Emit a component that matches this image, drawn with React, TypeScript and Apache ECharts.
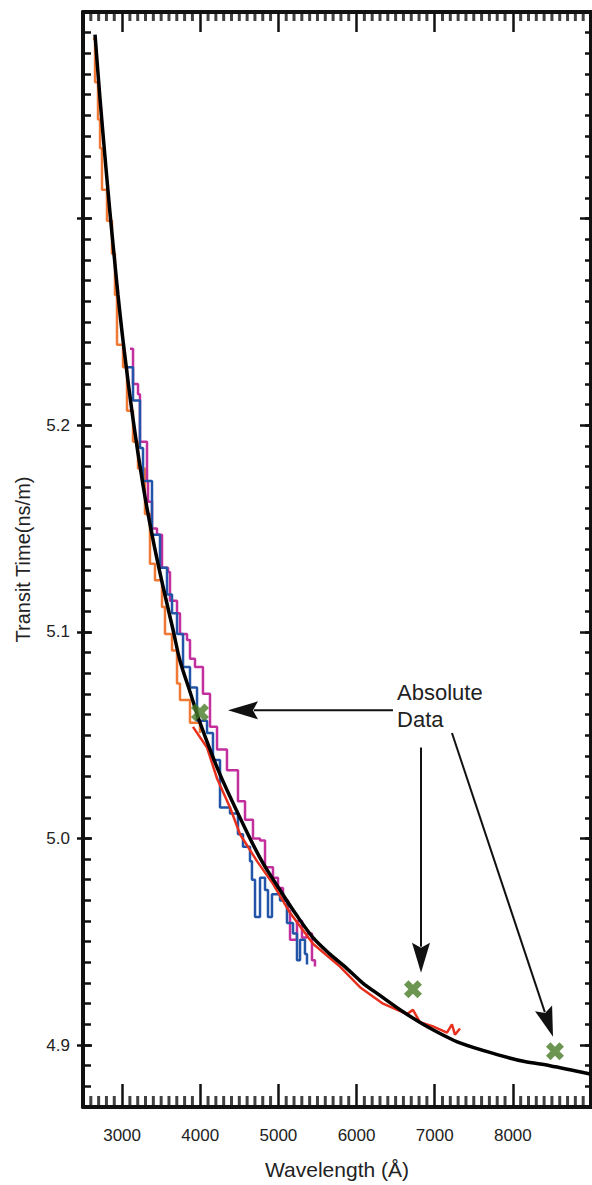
import React, { useEffect, useRef } from 'react';
import * as echarts from 'echarts';

// Wavelength (Å) vs transit time (ns/m)
const modelCurve: [number, number][] = [
  [2654, 5.389], [2718, 5.358], [2781, 5.330], [2845, 5.303], [2909, 5.278], [2948, 5.263],
  [3012, 5.241], [3140, 5.203], [3268, 5.171], [3383, 5.147], [3511, 5.124], [3652, 5.101],
  [3741, 5.086], [3869, 5.071], [3997, 5.056], [4253, 5.031], [4598, 5.003], [4803, 4.988],
  [5021, 4.975], [5230, 4.963], [5443, 4.952], [5660, 4.944], [5878, 4.937], [6080, 4.930],
  [6300, 4.924], [6600, 4.916], [6901, 4.909], [7324, 4.901], [7835, 4.895], [8150, 4.892],
  [8475, 4.890], [8987, 4.886],
];

const orangeRun: [number, number][] = [
  [2628, 5.387], [2654, 5.366], [2692, 5.348], [2718, 5.334], [2743, 5.314], [2807, 5.299],
  [2871, 5.283], [2909, 5.263], [2935, 5.239], [3012, 5.228], [3063, 5.207], [3140, 5.192],
  [3204, 5.179], [3293, 5.157], [3357, 5.133], [3421, 5.125], [3511, 5.112], [3549, 5.099],
  [3639, 5.091], [3703, 5.075], [3741, 5.067], [3869, 5.056], [3997, 5.051],
];

const redRun: [number, number][] = [
  [3907, 5.054], [4087, 5.044], [4215, 5.029], [4381, 5.015], [4509, 5.002], [4726, 4.989],
  [4931, 4.978], [5149, 4.964], [5443, 4.949], [5788, 4.938], [6044, 4.928], [6339, 4.920],
  [6646, 4.915], [6722, 4.917], [6812, 4.911], [6978, 4.909], [7157, 4.906], [7221, 4.910],
  [7259, 4.905], [7324, 4.908],
];

const magentaRun: [number, number][] = [
  [3101, 5.237], [3140, 5.220], [3204, 5.215], [3229, 5.192], [3319, 5.173], [3332, 5.163],
  [3383, 5.150], [3447, 5.147], [3511, 5.131], [3588, 5.129], [3613, 5.115], [3703, 5.109],
  [3741, 5.099], [3831, 5.096], [3869, 5.087], [3933, 5.083], [4035, 5.070], [4125, 5.054],
  [4215, 5.043], [4342, 5.033], [4483, 5.018], [4573, 5.009], [4675, 5.000], [4765, 4.999],
  [4829, 4.986], [4931, 4.981], [4995, 4.976], [5059, 4.970], [5123, 4.965], [5149, 4.951],
  [5238, 4.960], [5302, 4.952], [5366, 4.954], [5430, 4.941], [5468, 4.938],
];

const blueRun: [number, number][] = [
  [3063, 5.228], [3140, 5.212], [3229, 5.189], [3268, 5.173], [3383, 5.147], [3485, 5.131],
  [3575, 5.118], [3639, 5.109], [3703, 5.099], [3780, 5.083], [3869, 5.073], [3959, 5.057],
  [4087, 5.051], [4163, 5.038], [4253, 5.015], [4381, 5.012], [4483, 5.002], [4547, 4.996],
  [4637, 4.989], [4662, 4.980], [4701, 4.962], [4765, 4.981], [4829, 4.975], [4867, 4.962],
  [4918, 4.973], [5021, 4.970], [5110, 4.959], [5187, 4.954], [5238, 4.941], [5277, 4.951],
  [5340, 4.944], [5366, 4.939],
];

const absoluteData: [number, number][] = [
  [3997, 5.061], [6722, 4.927], [8539, 4.897],
];

// annotation arrows: [from, to] in data units
const arrows: [[number, number], [number, number]][] = [
  [[6466, 5.062], [4355, 5.062]],
  [[6825, 5.044], [6825, 4.935]],
  [[7221, 5.051], [8514, 4.904]],
];
const noteAnchor: [number, number] = [6518, 5.077];
const noteText = 'Absolute\nData';

const xMajor = [3000, 4000, 5000, 6000, 7000, 8000];
const yMajorTicks = [4.9, 5.0, 5.1, 5.2, 5.3];
const yLabels = [4.9, 5.0, 5.1, 5.2];
const X_MIN = 2500;
const X_MAX = 9000;
const Y_MIN = 4.87;
const Y_MAX = 5.4;
const xMinor = Array.from({ length: (X_MAX - X_MIN) / 100 + 1 }, (_, i) => X_MIN + i * 100)
  .filter((v) => v > X_MIN && v < X_MAX && xMajor.indexOf(v) < 0);
const yMinor = Array.from({ length: 54 }, (_, i) => +(Y_MIN + i * 0.01).toFixed(2));
const yMinorGroups = [0, 1].map((k) => yMinor.filter((_, i) => i % 2 === k));

const FONT = 'Liberation Sans';
const INK = '#111';

export default function App() {
  const ref = useRef<HTMLDivElement>(null);
  useEffect(() => {
    const chart = echarts.init(ref.current!, null, { renderer: 'svg' });
    const base = () => ({ type: 'value', min: X_MIN, max: X_MAX, splitLine: { show: false } });
    const ybase = () => ({ type: 'value', min: Y_MIN, max: Y_MAX, splitLine: { show: false } });
    const line = () => ({ show: true, onZero: false, lineStyle: { color: INK, width: 4 } });
    const noLine = () => ({ show: false, onZero: false });
    const noTick = () => ({ show: false });
    const noLabel = () => ({ show: false });
    const tick = (inside: boolean, length: number, custom: number[], width = 2.5) => ({
      show: true, inside, length, lineStyle: { color: INK, width }, customValues: custom,
    });
    const yTickAxes = (pos: string, len: number) =>
      yMinorGroups.map((g) => ({ ...ybase(), position: pos, axisLine: noLine(), axisTick: tick(true, len, g), axisLabel: noLabel() }));
    // frame minor ticks along the wavelength edges, drawn as thin rect marks sitting on the frame
    const frameTicks = (yv: number, len: number, dir: number) => ({
      type: 'scatter', silent: true, clip: false, z: 5,
      data: xMinor.map((v) => [v, yv]),
      symbol: 'rect', symbolSize: [3, len], symbolOffset: [0, (dir * len) / 2],
      itemStyle: { color: INK }, tooltip: { show: false },
    });
    chart.setOption({
      animation: false,
      backgroundColor: '#fff',
      textStyle: { fontFamily: FONT },
      grid: { left: 83, top: 12, width: 508, height: 1096, containLabel: false },
      xAxis: [
        {
          ...base(), position: 'bottom', axisLine: line(), axisTick: noTick(), axisLabel: noLabel(),
          name: 'Wavelength (Å)', nameLocation: 'middle', nameGap: 52,
          nameTextStyle: { fontSize: 21, color: '#222', fontFamily: FONT },
        },
        {
          ...base(), position: 'bottom', axisLine: noLine(), axisTick: tick(true, 23, xMajor),
          axisLabel: {
            customValues: xMajor, fontSize: 17, color: '#222', margin: 20, fontFamily: FONT,
            formatter: (v: number) => String(v),
          },
        },
        { ...base(), position: 'top', axisLine: line(), axisTick: noTick(), axisLabel: noLabel() },
        { ...base(), position: 'top', axisLine: noLine(), axisTick: tick(true, 20, xMajor), axisLabel: noLabel() },
      ],
      yAxis: [
        {
          ...ybase(), position: 'left', axisLine: line(), axisTick: noTick(), axisLabel: noLabel(),
          name: 'Transit Time(ns/m)', nameLocation: 'middle', nameGap: 50,
          nameTextStyle: { fontSize: 20, color: '#222', fontFamily: FONT },
        },
        { ...ybase(), position: 'left', axisLine: noLine(), axisTick: tick(true, 9, yMajorTicks), axisLabel: noLabel() },
        {
          ...ybase(), position: 'left', axisLine: noLine(), axisTick: tick(false, 6, yMajorTicks),
          axisLabel: {
            customValues: yLabels, fontSize: 17, color: '#222', margin: 13, fontFamily: FONT,
            formatter: (v: number) => v.toFixed(1),
          },
        },
        { ...ybase(), position: 'right', axisLine: line(), axisTick: noTick(), axisLabel: noLabel() },
        { ...ybase(), position: 'right', axisLine: noLine(), axisTick: tick(true, 11, yMajorTicks), axisLabel: noLabel() },
        ...yTickAxes('left', 8),
        ...yTickAxes('right', 6),
      ],
      series: [
        frameTicks(Y_MIN, 11, -1),
        frameTicks(Y_MAX, 9, 1),
        { type: 'line', data: orangeRun, symbol: 'none', step: 'end', lineStyle: { color: '#f07a35', width: 2.5 }, z: 2 },
        { type: 'line', data: magentaRun, symbol: 'none', step: 'end', lineStyle: { color: '#c42f9e', width: 2.5 }, z: 2 },
        { type: 'line', data: blueRun, symbol: 'none', step: 'end', lineStyle: { color: '#2255a8', width: 2.5 }, z: 3 },
        { type: 'line', data: redRun, symbol: 'none', lineStyle: { color: '#e8301f', width: 2.5 }, z: 3 },
        { type: 'line', data: modelCurve, symbol: 'none', smooth: 0.3, lineStyle: { color: '#000', width: 3.5 }, z: 4 },
        {
          type: 'scatter', data: absoluteData, z: 6,
          symbol: 'path://M4,0 L8,4 L12,0 L16,4 L12,8 L16,12 L12,16 L8,12 L4,16 L0,12 L4,8 L0,4 Z',
          symbolSize: 18, itemStyle: { color: '#477a26' },
        },
      ],
    });

    const toPx = (p: [number, number]) =>
      chart.convertToPixel({ xAxisIndex: 0, yAxisIndex: 0 }, p) as number[];
    const graphics: any[] = [];
    arrows.forEach(([from, to]) => {
      const a = toPx(from);
      const b = toPx(to);
      const dx = b[0] - a[0];
      const dy = b[1] - a[1];
      const len = Math.hypot(dx, dy);
      const ux = dx / len;
      const uy = dy / len;
      const nx = -uy;
      const ny = ux;
      const L = 30;
      const W = 9;
      const bx = b[0] - ux * L;
      const by = b[1] - uy * L;
      graphics.push({
        type: 'line', silent: true, z: 10,
        shape: { x1: a[0], y1: a[1], x2: bx + ux * 4, y2: by + uy * 4 },
        style: { stroke: INK, lineWidth: 2 },
      });
      graphics.push({
        type: 'polygon', silent: true, z: 10,
        shape: {
          points: [
            [b[0], b[1]],
            [bx + nx * W, by + ny * W],
            [bx + ux * 5, by + uy * 5],
            [bx - nx * W, by - ny * W],
          ],
        },
        style: { fill: INK },
      });
    });
    const t = toPx(noteAnchor);
    graphics.push({
      type: 'text', x: t[0], y: t[1], z: 10,
      style: {
        text: noteText, fontSize: 22, fontFamily: FONT, fill: '#222',
        lineHeight: 27, verticalAlign: 'top', align: 'left',
      },
    });
    chart.setOption({ graphic: graphics });

    return () => chart.dispose();
  }, []);
  return (
    <div
      ref={ref}
      style={{ position: 'absolute', left: 0, top: 0, width: 592, height: 1185, background: '#fff' }}
    />
  );
}
